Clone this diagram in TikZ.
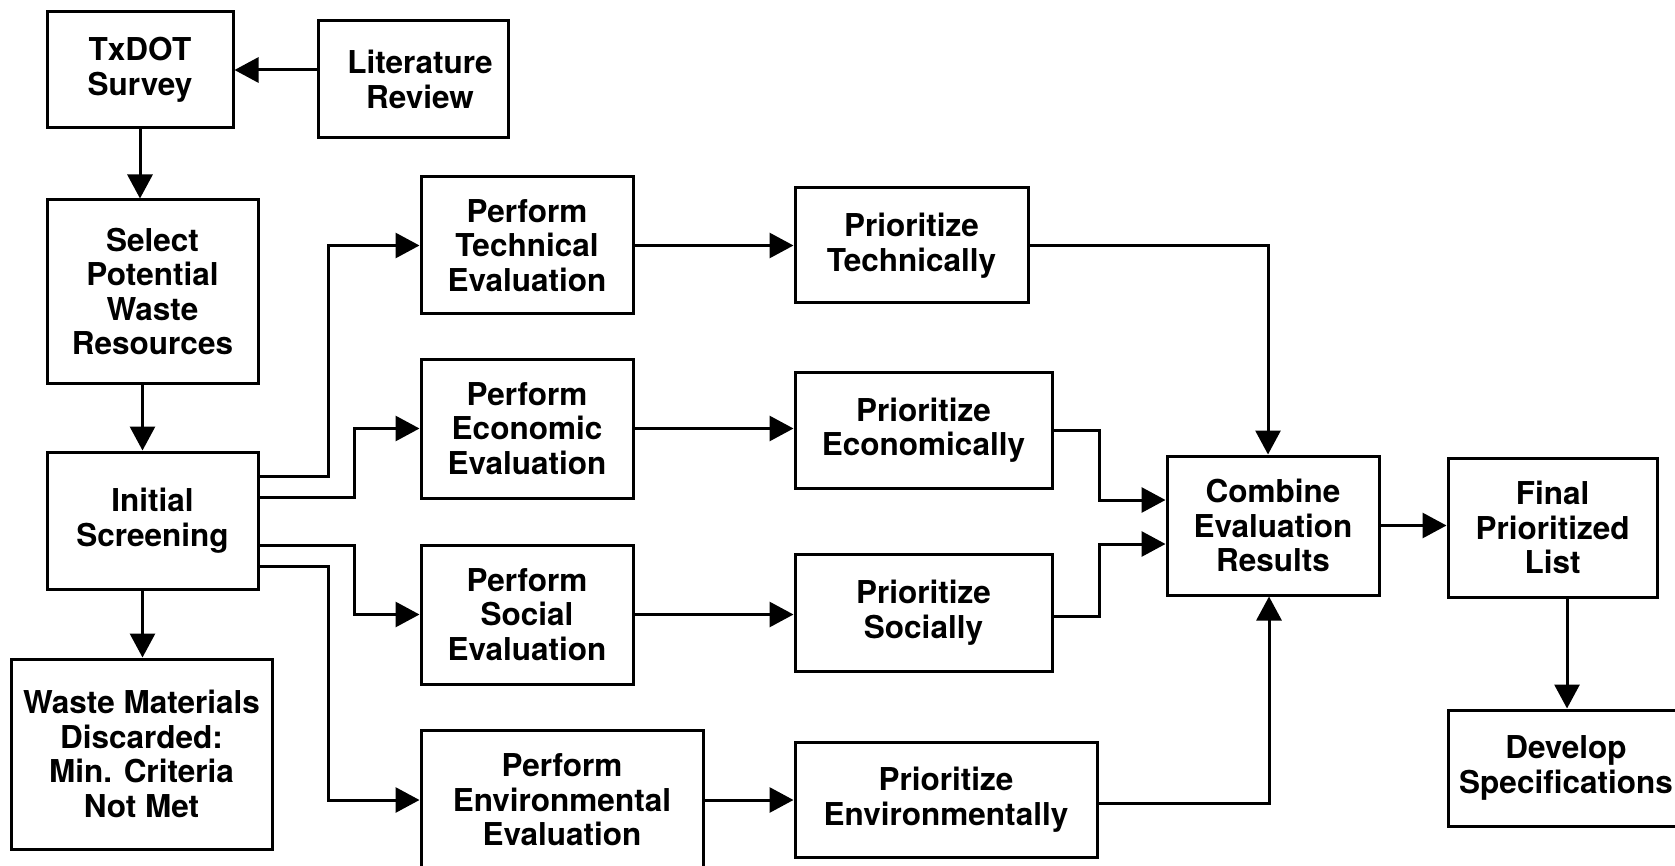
\documentclass[tikz,border=0pt]{standalone}
\usepackage{fontspec}
\setmainfont{TeX Gyre Heros}
\usetikzlibrary{arrows.meta,calc}
\begin{document}
\begin{tikzpicture}[x=1pt,y=-1pt,
  box/.style={draw, line width=3pt, align=center, inner sep=0pt,
    font=\fontsize{31.5}{34.5}\selectfont\bfseries},
  link/.style={line width=3pt, -{Triangle[length=24pt,width=25pt]}},
]
\fill[white] (0,0) rectangle (1675,866);
\useasboundingbox (0,0) rectangle (1675,866);
\clip (0,0) rectangle (1675,866);

% left column
\node[box, minimum width=186pt, minimum height=116pt] (txdot) at (140,70) {TxDOT\\Survey};
\node[box, minimum width=190pt, minimum height=117pt] (lit) at (413,79.5) {\hspace*{14pt}Literature\\\hspace*{14pt}Review};
\node[box, minimum width=211pt, minimum height=183pt] (select) at (152.5,291.5) {Select\\Potential\\Waste\\Resources};
\node[box, minimum width=211pt, minimum height=137pt] (init) at (152.5,520.5) {Initial\\Screening};
\node[box, minimum width=261pt, minimum height=190pt] (waste) at (141.5,754) {Waste Materials\\Discarded:\\Min. Criteria\\Not Met};

% evaluations
\node[box, minimum width=212pt, minimum height=137pt] (tech) at (527,245.5) {Perform\\Technical\\Evaluation};
\node[box, minimum width=212pt, minimum height=139pt] (econ) at (527,428.5) {Perform\\Economic\\Evaluation};
\node[box, minimum width=212pt, minimum height=139pt] (soc) at (527,614.5) {Perform\\Social\\Evaluation};
\node[box, minimum width=282pt, minimum height=140pt] (env) at (562,800) {Perform\\Environmental\\Evaluation};

% prioritization
\node[box, minimum width=233pt, minimum height=115pt] (ptech) at (911.5,245.5) {Prioritize\\Technically};
\node[box, minimum width=257pt, minimum height=116pt] (pecon) at (923.5,430) {Prioritize\\Economically};
\node[box, minimum width=257pt, minimum height=117pt] (psoc) at (923.5,612.5) {Prioritize\\Socially};
\node[box, minimum width=302pt, minimum height=115pt] (penv) at (946,799.5) {Prioritize\\Environmentally};

% results
\node[box, minimum width=212pt, minimum height=139pt] (comb) at (1273,525.5) {Combine\\Evaluation\\Results};
\node[box, minimum width=209pt, minimum height=139pt] (final) at (1552.5,527.5) {Final\\Prioritized\\List};
\node[box, minimum width=236pt, minimum height=116pt] (dev) at (1566,768) {Develop\\Specifications};

% connectors
\draw[link] (lit.west |- txdot.east) -- (txdot.east);
\draw[link] (txdot.south) -- (txdot.south |- select.north);
\draw[link] ([xshift=-10pt]select.south) -- ([xshift=-10pt]init.north);
\draw[link] ([xshift=-10pt]init.south) -- ([xshift=-10pt]init.south |- waste.north);

\draw[link] ([yshift=44.5pt]init.east) -- ++(69,0) |- (tech.west);
\draw[link] ([yshift=23.5pt]init.east) -- ++(95,0) |- (econ.west);
\draw[link] ([yshift=-24.5pt]init.east) -- ++(95,0) |- (soc.west);
\draw[link] ([yshift=-45.5pt]init.east) -- ++(69,0) |- (env.west);

\draw[link] (tech.east) -- (tech.east -| ptech.west);
\draw[link] (econ.east) -- (econ.east -| pecon.west);
\draw[link] (soc.east) -- (soc.east -| psoc.west);
\draw[link] (env.east) -- (env.east -| penv.west);

\draw[link] (ptech.east) -| ([xshift=-5pt]comb.north);
\draw[link] (pecon.east) -- ++(46,0) |- ([yshift=25.5pt]comb.west);
\draw[link] ([yshift=-4pt]psoc.east) -- ++(46,0) |- ([yshift=-18.5pt]comb.west);
\draw[link] ([yshift=-3.5pt]penv.east) -| ([xshift=-4pt]comb.south);

\draw[link] (comb.east) -- (comb.east -| final.west);
\draw[link] ([xshift=14.5pt]final.south) -- ([xshift=14.5pt]final.south |- dev.north);
\end{tikzpicture}
\end{document}
